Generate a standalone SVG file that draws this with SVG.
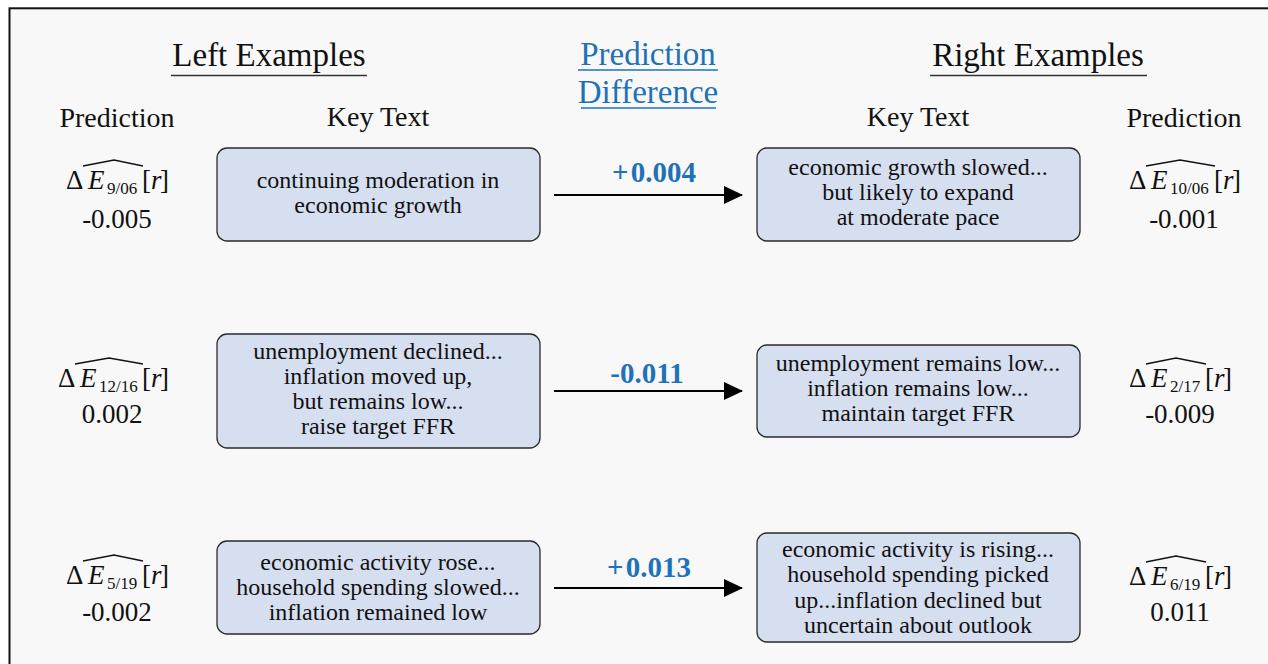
<svg xmlns="http://www.w3.org/2000/svg" width="1268" height="664" viewBox="0 0 1268 664">
<defs>
<style>
text{font-family:"Liberation Serif","Times New Roman",serif;fill:#111}
.hd{font-size:33px}
.ch{font-size:28px;text-anchor:middle}
.val{font-size:27px;text-anchor:middle}
.bx{font-size:24px;text-anchor:middle}
.m{font-size:27px}
.it{font-style:italic}
.sub{font-size:17px}
.blue{fill:#1f72b8}
.num{font-size:29px;font-weight:bold;fill:#1f72b8;text-anchor:middle}
.box{fill:#d6dff0;stroke:#2a2a2a;stroke-width:1.3}
.ul{stroke:#333;stroke-width:1.5}
.ulb{stroke:#1f72b8;stroke-width:1.5}
.hat{fill:none;stroke:#111;stroke-width:1.3}
.arr{stroke:#000;stroke-width:2.2;fill:none}
</style>
<marker id="ah" markerWidth="19" markerHeight="18" refX="18" refY="9" orient="auto" markerUnits="userSpaceOnUse">
<path d="M0,0 L19,9 L0,18 z" fill="#000"/>
</marker>
</defs>
<rect x="0" y="0" width="1268" height="664" fill="#ffffff"/>
<rect x="9.5" y="8.3" width="1290" height="700" fill="#f8f8f8" stroke="#111" stroke-width="2"/>

<g id="headers">
<text class="hd" x="269" y="66" text-anchor="middle">Left Examples</text>
<line class="ul" x1="171" y1="75.5" x2="367" y2="75.5"/>
<text class="hd blue" x="648" y="65" text-anchor="middle">Prediction</text>
<line class="ulb" x1="578" y1="70" x2="718" y2="70"/>
<text class="hd blue" x="648" y="103" text-anchor="middle">Difference</text>
<line class="ulb" x1="581" y1="108" x2="716" y2="108"/>
<text class="hd" x="1038" y="66" text-anchor="middle">Right Examples</text>
<line class="ul" x1="930" y1="75.5" x2="1147" y2="75.5"/>
<text class="ch" x="117" y="127">Prediction</text>
<text class="ch" x="378" y="126">Key Text</text>
<text class="ch" x="918" y="126">Key Text</text>
<text class="ch" x="1184" y="127">Prediction</text>
</g>

<g id="pred-left-1">
<text class="m" y="189"><tspan x="66">Δ</tspan><tspan x="88" class="it">E</tspan><tspan x="107" dy="5" class="sub">9/06</tspan><tspan x="142" dy="-5">[</tspan><tspan x="151" class="it">r</tspan><tspan x="160">]</tspan></text>
<path class="hat" d="M83,166 L114,160 L143,166"/>
<text class="val" x="117" y="228">-0.005</text>
</g>
<g id="pred-left-2">
<text class="m" y="387"><tspan x="58">Δ</tspan><tspan x="80" class="it">E</tspan><tspan x="99" dy="5" class="sub">12/16</tspan><tspan x="142" dy="-5">[</tspan><tspan x="151" class="it">r</tspan><tspan x="160">]</tspan></text>
<path class="hat" d="M75,364 L109,358 L143,364"/>
<text class="val" x="112" y="423">0.002</text>
</g>
<g id="pred-left-3">
<text class="m" y="584"><tspan x="66">Δ</tspan><tspan x="88" class="it">E</tspan><tspan x="107" dy="5" class="sub">5/19</tspan><tspan x="142" dy="-5">[</tspan><tspan x="151" class="it">r</tspan><tspan x="160">]</tspan></text>
<path class="hat" d="M83,561 L114,555 L143,561"/>
<text class="val" x="117" y="621">-0.002</text>
</g>
<g id="pred-right-1">
<text class="m" y="189"><tspan x="1129">Δ</tspan><tspan x="1151" class="it">E</tspan><tspan x="1170" dy="5" class="sub">10/06</tspan><tspan x="1214" dy="-5">[</tspan><tspan x="1223" class="it">r</tspan><tspan x="1232">]</tspan></text>
<path class="hat" d="M1146,166 L1180,160 L1215,166"/>
<text class="val" x="1184" y="228">-0.001</text>
</g>
<g id="pred-right-2">
<text class="m" y="387"><tspan x="1129">Δ</tspan><tspan x="1151" class="it">E</tspan><tspan x="1170" dy="5" class="sub">2/17</tspan><tspan x="1205" dy="-5">[</tspan><tspan x="1214" class="it">r</tspan><tspan x="1223">]</tspan></text>
<path class="hat" d="M1146,364 L1176,358 L1206,364"/>
<text class="val" x="1180" y="423">-0.009</text>
</g>
<g id="pred-right-3">
<text class="m" y="585"><tspan x="1129">Δ</tspan><tspan x="1151" class="it">E</tspan><tspan x="1170" dy="5" class="sub">6/19</tspan><tspan x="1205" dy="-5">[</tspan><tspan x="1214" class="it">r</tspan><tspan x="1223">]</tspan></text>
<path class="hat" d="M1146,562 L1176,556 L1206,562"/>
<text class="val" x="1180" y="621">0.011</text>
</g>

<g id="left-box-1">
<rect class="box" x="217" y="148" width="323" height="93" rx="10"/>
<text class="bx" x="378" y="188">continuing moderation in</text>
<text class="bx" x="378" y="213">economic growth</text>
</g>
<g id="right-box-1">
<rect class="box" x="757" y="148" width="323" height="93" rx="10"/>
<text class="bx" x="918" y="175">economic growth slowed...</text>
<text class="bx" x="918" y="200">but likely to expand</text>
<text class="bx" x="918" y="225">at moderate pace</text>
</g>
<g id="left-box-2">
<rect class="box" x="217" y="334" width="323" height="114" rx="10"/>
<text class="bx" x="378" y="359">unemployment declined...</text>
<text class="bx" x="378" y="384">inflation moved up,</text>
<text class="bx" x="378" y="409">but remains low...</text>
<text class="bx" x="378" y="434">raise target FFR</text>
</g>
<g id="right-box-2">
<rect class="box" x="757" y="345" width="323" height="92" rx="10"/>
<text class="bx" x="918" y="371">unemployment remains low...</text>
<text class="bx" x="918" y="396">inflation remains low...</text>
<text class="bx" x="918" y="421">maintain target FFR</text>
</g>
<g id="left-box-3">
<rect class="box" x="217" y="541" width="323" height="93" rx="10"/>
<text class="bx" x="378" y="570">economic activity rose...</text>
<text class="bx" x="378" y="595">household spending slowed...</text>
<text class="bx" x="378" y="620">inflation remained low</text>
</g>
<g id="right-box-3">
<rect class="box" x="757" y="533" width="323" height="109" rx="10"/>
<text class="bx" x="918" y="557">economic activity is rising...</text>
<text class="bx" x="918" y="582">household spending picked</text>
<text class="bx" x="918" y="608">up...inflation declined but</text>
<text class="bx" x="918" y="633">uncertain about outlook</text>
</g>

<g id="connectors">
<line class="arr" x1="554" y1="195" x2="742" y2="195" marker-end="url(#ah)"/>
<text class="num" x="654" y="182"><tspan>+</tspan><tspan dx="2">0.004</tspan></text>
<line class="arr" x1="554" y1="391" x2="742" y2="391" marker-end="url(#ah)"/>
<text class="num" x="647" y="383">-0.011</text>
<line class="arr" x1="554" y1="588" x2="742" y2="588" marker-end="url(#ah)"/>
<text class="num" x="649" y="577"><tspan>+</tspan><tspan dx="2">0.013</tspan></text>
</g>
</svg>
